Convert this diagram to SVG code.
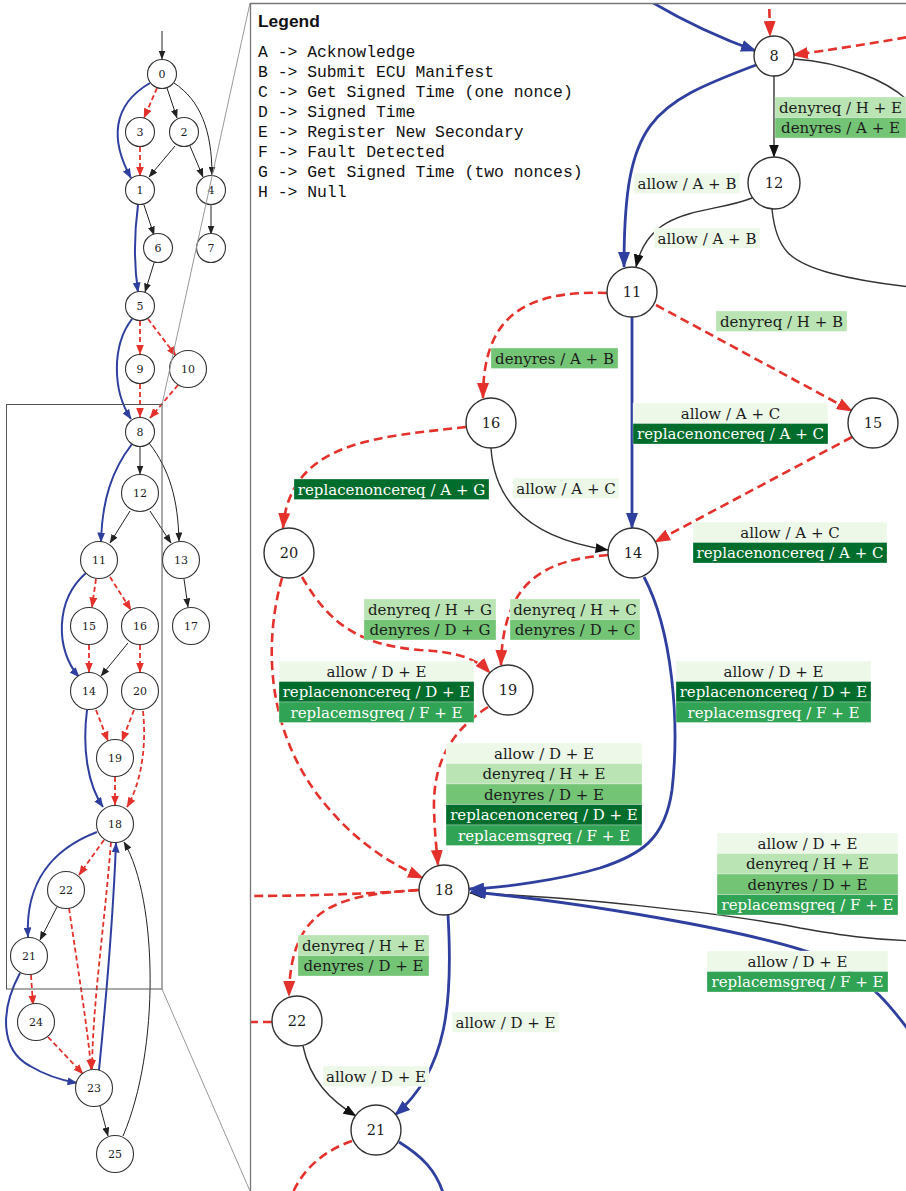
<svg xmlns="http://www.w3.org/2000/svg" width="906" height="1191" viewBox="0 0 906 1191">
<style>
  text{font-family:"DejaVu Serif","Liberation Serif",serif;fill:#1c1c1c}
  .nd circle{fill:#fff;stroke:#333;stroke-width:1.1}
  .nd text{text-anchor:middle}
  #mini .nd text{font-size:11px}
  #panel .nd text{font-size:14.5px}
  #panel .nd circle{stroke-width:1.4}
  .lbl text{font-size:15px;text-anchor:middle}
  .lbl text.w{fill:#fff}
  .c1{fill:#edf8e9}.c2{fill:#bae4b3}.c3{fill:#74c476}.c4{fill:#006d2c}.c5{fill:#31a354}
  .lbl rect{stroke:#fff;stroke-opacity:.5;stroke-width:.6}
  #mini .bk{stroke:#222;stroke-width:1;fill:none;marker-end:url(#sk)}
  #mini .bl{stroke:#2f3f9f;stroke-width:2;fill:none;marker-end:url(#sb)}
  #mini .rd{stroke:#e4312b;stroke-width:1.8;fill:none;stroke-dasharray:5 3;marker-end:url(#sr)}
  #panel .bk{stroke:#333;stroke-width:1.4;fill:none;marker-end:url(#pk)}
  #panel .bl{stroke:#2f3f9f;stroke-width:2.8;fill:none;marker-end:url(#pb)}
  #panel .rd{stroke:#e4312b;stroke-width:2.6;fill:none;stroke-dasharray:9 5;marker-end:url(#pr)}
  #panel .nm{marker-end:none}
  .legend{font-family:"Liberation Mono",monospace;font-size:16.4px;fill:#111}
</style>
<defs>
  <marker id="sk" viewBox="0 0 9 7" refX="8.5" refY="3.5" markerWidth="9" markerHeight="7" markerUnits="userSpaceOnUse" orient="auto"><path d="M0,0 L9,3.5 L0,7 z" fill="#222"/></marker>
  <marker id="sb" viewBox="0 0 10 8" refX="9.5" refY="4" markerWidth="10" markerHeight="8" markerUnits="userSpaceOnUse" orient="auto"><path d="M0,0 L10,4 L0,8 z" fill="#2f3f9f"/></marker>
  <marker id="sr" viewBox="0 0 10 8" refX="9.5" refY="4" markerWidth="10" markerHeight="8" markerUnits="userSpaceOnUse" orient="auto"><path d="M0,0 L10,4 L0,8 z" fill="#e4312b"/></marker>
  <marker id="pk" viewBox="0 0 13 10" refX="12.5" refY="5" markerWidth="13" markerHeight="10" markerUnits="userSpaceOnUse" orient="auto"><path d="M0,0 L13,5 L0,10 z" fill="#111"/></marker>
  <marker id="pb" viewBox="0 0 16 12" refX="15" refY="6" markerWidth="16" markerHeight="12" markerUnits="userSpaceOnUse" orient="auto"><path d="M0,0 L16,6 L0,12 z" fill="#2f3f9f"/></marker>
  <marker id="pr" viewBox="0 0 16 12" refX="15" refY="6" markerWidth="16" markerHeight="12" markerUnits="userSpaceOnUse" orient="auto"><path d="M0,0 L16,6 L0,12 z" fill="#e4312b"/></marker>
  <clipPath id="panelClip"><rect x="250" y="3" width="656" height="1188"/></clipPath>
</defs>
<rect width="906" height="1191" fill="#fff"/>

<!-- overview graph -->
<g id="mini">
  <g id="mini-edges">
    <path class="bk" d="M162,31 L162,59"/>
    <path class="bl" d="M150,83 C112,105 110,140 131,178"/>
    <path class="rd" d="M157,88 L144,118"/>
    <path class="bk" d="M167,88 L177,118"/>
    <path class="bk" d="M174,83 C200,100 212,130 212,175"/>
    <path class="rd" d="M140,147 L140,176"/>
    <path class="bk" d="M175,146 L149,177"/>
    <path class="bk" d="M190,146 L203,177"/>
    <path class="bk" d="M144,205 L154,235"/>
    <path class="bl" d="M138,205 C134,235 134,265 138,292"/>
    <path class="bk" d="M154,263 L145,292"/>
    <path class="bk" d="M211,205 L211,234"/>
    <path class="bl" d="M132,319 C112,345 112,390 131,419"/>
    <path class="rd" d="M140,321 L140,354"/>
    <path class="rd" d="M148,319 L176,356"/>
    <path class="rd" d="M140,384 L140,417"/>
    <path class="rd" d="M178,385 L150,418"/>
    <path class="bk" d="M140,447 L140,474"/>
    <path class="bl" d="M132,444 C112,470 102,500 101,542"/>
    <path class="bk" d="M149,443 C170,470 178,500 179,541"/>
    <path class="bk" d="M130,511 L110,543"/>
    <path class="bk" d="M150,511 L171,543"/>
    <path class="bl" d="M86,573 C55,600 55,650 79,677"/>
    <path class="rd" d="M96,579 L92,607"/>
    <path class="rd" d="M110,577 L131,610"/>
    <path class="bk" d="M184,579 L188,607"/>
    <path class="rd" d="M89,645 L89,672"/>
    <path class="bk" d="M128,643 L101,676"/>
    <path class="rd" d="M140,645 L140,672"/>
    <path class="rd" d="M96,710 L108,741"/>
    <path class="rd" d="M134,710 L122,741"/>
    <path class="bl" d="M87,710 C82,750 88,785 103,807"/>
    <path class="rd" d="M143,711 C147,750 140,785 127,807"/>
    <path class="rd" d="M115,777 L115,805"/>
    <path class="bl" d="M97,832 C55,848 25,880 28,937"/>
    <path class="rd" d="M104,840 L79,875"/>
    <path class="rd" d="M111,842 C104,930 93,1000 92,1069"/>
    <path class="bl" d="M99,1070 C106,1000 113,920 116,843"/>
    <path class="bk" d="M123,1136 C160,1050 158,900 124,842"/>
    <path class="bk" d="M57,907 L40,940"/>
    <path class="rd" d="M69,908 C78,970 88,1030 91,1069"/>
    <path class="rd" d="M31,975 L33,1005"/>
    <path class="bl" d="M20,973 C0,1010 0,1050 30,1066 C45,1075 60,1080 77,1083"/>
    <path class="rd" d="M48,1037 L83,1074"/>
    <path class="bk" d="M100,1106 L108,1136"/>
  </g>
  <g id="mini-n0" class="nd"><circle cx="162" cy="74" r="14.5"/><text x="162" y="78">0</text></g>
  <g id="mini-n3" class="nd"><circle cx="140" cy="132" r="14.5"/><text x="140" y="136">3</text></g>
  <g id="mini-n2" class="nd"><circle cx="184" cy="132" r="14.5"/><text x="184" y="136">2</text></g>
  <g id="mini-n1" class="nd"><circle cx="140" cy="190" r="14.5"/><text x="140" y="194">1</text></g>
  <g id="mini-n4" class="nd"><circle cx="211" cy="190" r="14.5"/><text x="211" y="194">4</text></g>
  <g id="mini-n6" class="nd"><circle cx="158" cy="248" r="14.5"/><text x="158" y="252">6</text></g>
  <g id="mini-n7" class="nd"><circle cx="211" cy="248" r="14.5"/><text x="211" y="252">7</text></g>
  <g id="mini-n5" class="nd"><circle cx="140" cy="306" r="14.5"/><text x="140" y="310">5</text></g>
  <g id="mini-n9" class="nd"><circle cx="140" cy="369" r="14.5"/><text x="140" y="373">9</text></g>
  <g id="mini-n10" class="nd"><circle cx="188" cy="369" r="18.5"/><text x="188" y="373">10</text></g>
  <g id="mini-n8" class="nd"><circle cx="140" cy="432" r="14.5"/><text x="140" y="436">8</text></g>
  <g id="mini-n12" class="nd"><circle cx="140" cy="493" r="18.5"/><text x="140" y="497">12</text></g>
  <g id="mini-n11" class="nd"><circle cx="99" cy="560" r="18.5"/><text x="99" y="564">11</text></g>
  <g id="mini-n13" class="nd"><circle cx="181" cy="560" r="18.5"/><text x="181" y="564">13</text></g>
  <g id="mini-n15" class="nd"><circle cx="89" cy="626" r="18.5"/><text x="89" y="630">15</text></g>
  <g id="mini-n16" class="nd"><circle cx="140" cy="626" r="18.5"/><text x="140" y="630">16</text></g>
  <g id="mini-n17" class="nd"><circle cx="191" cy="626" r="18.5"/><text x="191" y="630">17</text></g>
  <g id="mini-n14" class="nd"><circle cx="89" cy="691" r="18.5"/><text x="89" y="695">14</text></g>
  <g id="mini-n20" class="nd"><circle cx="140" cy="691" r="18.5"/><text x="140" y="695">20</text></g>
  <g id="mini-n19" class="nd"><circle cx="115" cy="758" r="18.5"/><text x="115" y="762">19</text></g>
  <g id="mini-n18" class="nd"><circle cx="115" cy="824" r="18.5"/><text x="115" y="828">18</text></g>
  <g id="mini-n22" class="nd"><circle cx="66" cy="890" r="18.5"/><text x="66" y="894">22</text></g>
  <g id="mini-n21" class="nd"><circle cx="29" cy="956" r="18.5"/><text x="29" y="960">21</text></g>
  <g id="mini-n24" class="nd"><circle cx="36" cy="1022" r="18.5"/><text x="36" y="1026">24</text></g>
  <g id="mini-n23" class="nd"><circle cx="94" cy="1088" r="18.5"/><text x="94" y="1092">23</text></g>
  <g id="mini-n25" class="nd"><circle cx="115" cy="1154" r="18.5"/><text x="115" y="1158">25</text></g>
</g>

<!-- magnified region frame and guide lines -->
<g id="zoom-frame" fill="none">
  <rect x="6.5" y="404.5" width="155.5" height="584.5" stroke="#555" stroke-width="1"/>
  <path d="M162,404.5 L250,3 M162,989 L250,1191" stroke="#999" stroke-width="1"/>
</g>

<!-- magnified panel -->
<g id="panel" clip-path="url(#panelClip)">
  <g id="panel-edges">
    <path class="bl" d="M640,-5 C680,20 720,38 756,51"/>
    <path class="rd" d="M769,-5 L770,36"/>
    <path class="rd" d="M920,35 C880,42 830,50 793,55"/>
    <path class="bk nm" d="M794,59 C840,62 890,80 912,105"/>
    <path class="bk" d="M774,76 L774,157"/>
    <path class="bl" d="M756,65 C650,105 624,120 624,267"/>
    <path class="bk" d="M752,198 C710,215 650,205 636,267"/>
    <path class="bk nm" d="M772,209 C776,250 790,262 830,273 C860,281 890,285 920,288"/>
    <path class="rd" d="M607,293 C520,290 483,320 483,398"/>
    <path class="rd" d="M656,305 L852,411"/>
    <path class="bl" d="M632,317 L632,528"/>
    <path class="rd" d="M852,437 L655,542"/>
    <path class="rd" d="M466,427 C380,437 290,440 283,528"/>
    <path class="bk" d="M491,448 C495,510 540,540 608,550"/>
    <path class="rd" d="M608,555 C545,560 503,580 501,665"/>
    <path class="rd" d="M302,577 C330,625 360,645 420,650 C460,652 478,660 490,673"/>
    <path class="rd" d="M282,578 C262,650 268,740 330,810 C360,845 395,866 423,878"/>
    <path class="rd" d="M488,707 C445,735 433,770 434,810 C435,840 437,852 438,865"/>
    <path class="bl" d="M644,577 C672,630 680,720 672,790 C665,840 640,855 600,868 C560,880 500,888 469,889"/>
    <path class="bk" d="M920,941 C870,940 840,935 800,928 C720,912 560,896 470,893"/>
    <path class="bl" d="M920,1045 C900,1020 880,985 830,960 C760,930 560,900 471,892"/>
    <path class="rd nm" d="M240,896 C320,896 380,893 419,890"/>
    <path class="rd" d="M419,890 C340,895 290,905 289,996"/>
    <path class="rd nm" d="M272,1022 L240,1022"/>
    <path class="bk" d="M303,1046 C310,1080 330,1100 356,1116"/>
    <path class="bl" d="M448,915 C453,1000 448,1070 395,1115"/>
    <path class="bl nm" d="M399,1142 C420,1155 438,1170 445,1200"/>
    <path class="rd nm" d="M352,1141 C325,1150 300,1170 290,1200"/>
  </g>

  <g id="panel-labels" class="lbl">
    <g><rect class="c2" x="775" y="97" width="131" height="20.5"/><text x="840.5" y="112.5">denyreq / H + E</text>
       <rect class="c3" x="775" y="117.5" width="131" height="20.5"/><text x="840.5" y="133">denyres / A + E</text></g>
    <g><rect class="c1" x="634" y="173" width="106" height="20.5"/><text x="687" y="188.5">allow / A + B</text></g>
    <g><rect class="c1" x="654" y="228" width="106" height="20.5"/><text x="707" y="243.5">allow / A + B</text></g>
    <g><rect class="c3" x="491" y="348" width="127" height="20.5"/><text x="554.5" y="363.5">denyres / A + B</text></g>
    <g><rect class="c2" x="716" y="311" width="131" height="20.5"/><text x="781.5" y="326.5">denyreq / H + B</text></g>
    <g><rect class="c1" x="633" y="403" width="195" height="20.5"/><text x="730.5" y="418.5">allow / A + C</text>
       <rect class="c4" x="633" y="423.5" width="195" height="20.5"/><text class="w" x="730.5" y="439">replacenoncereq / A + C</text></g>
    <g><rect class="c1" x="693" y="522" width="194" height="20.5"/><text x="790" y="537.5">allow / A + C</text>
       <rect class="c4" x="693" y="542.5" width="194" height="20.5"/><text class="w" x="790" y="558">replacenoncereq / A + C</text></g>
    <g><rect class="c4" x="294" y="479" width="195" height="20.5"/><text class="w" x="391.5" y="494.5">replacenoncereq / A + G</text></g>
    <g><rect class="c1" x="513" y="478" width="106" height="20.5"/><text x="566" y="493.5">allow / A + C</text></g>
    <g><rect class="c2" x="510" y="599" width="130" height="20.5"/><text x="575" y="614.5">denyreq / H + C</text>
       <rect class="c3" x="510" y="619.5" width="130" height="20.5"/><text x="575" y="635">denyres / D + C</text></g>
    <g><rect class="c2" x="364" y="599" width="132" height="20.5"/><text x="430" y="614.5">denyreq / H + G</text>
       <rect class="c3" x="364" y="619.5" width="132" height="20.5"/><text x="430" y="635">denyres / D + G</text></g>
    <g><rect class="c1" x="279" y="661" width="195" height="20.5"/><text x="376.5" y="676.5">allow / D + E</text>
       <rect class="c4" x="279" y="681.5" width="195" height="20.5"/><text class="w" x="376.5" y="697">replacenoncereq / D + E</text>
       <rect class="c5" x="279" y="702" width="195" height="20.5"/><text class="w" x="376.5" y="717.5">replacemsgreq / F + E</text></g>
    <g><rect class="c1" x="446" y="743" width="196" height="20.5"/><text x="544" y="758.5">allow / D + E</text>
       <rect class="c2" x="446" y="763.5" width="196" height="20.5"/><text x="544" y="779">denyreq / H + E</text>
       <rect class="c3" x="446" y="784" width="196" height="20.5"/><text x="544" y="799.5">denyres / D + E</text>
       <rect class="c4" x="446" y="804.5" width="196" height="20.5"/><text class="w" x="544" y="820">replacenoncereq / D + E</text>
       <rect class="c5" x="446" y="825" width="196" height="20.5"/><text class="w" x="544" y="840.5">replacemsgreq / F + E</text></g>
    <g><rect class="c1" x="676" y="661" width="195" height="20.5"/><text x="773.5" y="676.5">allow / D + E</text>
       <rect class="c4" x="676" y="681.5" width="195" height="20.5"/><text class="w" x="773.5" y="697">replacenoncereq / D + E</text>
       <rect class="c5" x="676" y="702" width="195" height="20.5"/><text class="w" x="773.5" y="717.5">replacemsgreq / F + E</text></g>
    <g><rect class="c1" x="717" y="833" width="181" height="20.5"/><text x="807.5" y="848.5">allow / D + E</text>
       <rect class="c2" x="717" y="853.5" width="181" height="20.5"/><text x="807.5" y="869">denyreq / H + E</text>
       <rect class="c3" x="717" y="874" width="181" height="20.5"/><text x="807.5" y="889.5">denyres / D + E</text>
       <rect class="c5" x="717" y="894.5" width="181" height="20.5"/><text class="w" x="807.5" y="910">replacemsgreq / F + E</text></g>
    <g><rect class="c1" x="707" y="951" width="181" height="20.5"/><text x="797.5" y="966.5">allow / D + E</text>
       <rect class="c5" x="707" y="971.5" width="181" height="20.5"/><text class="w" x="797.5" y="987">replacemsgreq / F + E</text></g>
    <g><rect class="c2" x="298" y="935" width="131" height="20.5"/><text x="363.5" y="950.5">denyreq / H + E</text>
       <rect class="c3" x="298" y="955.5" width="131" height="20.5"/><text x="363.5" y="971">denyres / D + E</text></g>
    <g><rect class="c1" x="323" y="1066" width="106" height="20.5"/><text x="376" y="1081.5">allow / D + E</text></g>
    <g><rect class="c1" x="452" y="1012" width="107" height="20.5"/><text x="505.5" y="1027.5">allow / D + E</text></g>
  </g>

  <g id="n8" class="nd"><circle cx="774" cy="56" r="20"/><text x="774" y="61">8</text></g>
  <g id="n12" class="nd"><circle cx="774" cy="183" r="26"/><text x="774" y="188">12</text></g>
  <g id="n11" class="nd"><circle cx="632" cy="292" r="25"/><text x="632" y="297">11</text></g>
  <g id="n16" class="nd"><circle cx="491" cy="423" r="25"/><text x="491" y="428">16</text></g>
  <g id="n15" class="nd"><circle cx="873" cy="423" r="25"/><text x="873" y="428">15</text></g>
  <g id="n14" class="nd"><circle cx="633" cy="553" r="25"/><text x="633" y="558">14</text></g>
  <g id="n20" class="nd"><circle cx="289" cy="553" r="25"/><text x="289" y="558">20</text></g>
  <g id="n19" class="nd"><circle cx="508" cy="690" r="25"/><text x="508" y="695">19</text></g>
  <g id="n18" class="nd"><circle cx="444" cy="890" r="25"/><text x="444" y="895">18</text></g>
  <g id="n22" class="nd"><circle cx="297" cy="1021" r="25"/><text x="297" y="1026">22</text></g>
  <g id="n21" class="nd"><circle cx="376" cy="1130" r="25"/><text x="376" y="1135">21</text></g>

  <!-- key to the action letters -->
  <g id="legend">
    <text x="258" y="27" style="font-family:'Liberation Sans',Arial,sans-serif;font-weight:bold;font-size:17.4px;fill:#111">Legend</text>
    <text class="legend" x="258" y="57">A -&gt; Acknowledge</text>
    <text class="legend" x="258" y="77">B -&gt; Submit ECU Manifest</text>
    <text class="legend" x="258" y="97">C -&gt; Get Signed Time (one nonce)</text>
    <text class="legend" x="258" y="117">D -&gt; Signed Time</text>
    <text class="legend" x="258" y="137">E -&gt; Register New Secondary</text>
    <text class="legend" x="258" y="157">F -&gt; Fault Detected</text>
    <text class="legend" x="258" y="177">G -&gt; Get Signed Time (two nonces)</text>
    <text class="legend" x="258" y="197">H -&gt; Null</text>
  </g>
</g>
<path id="panel-border" d="M250.5,1191 L250.5,3.5 L906,3.5" fill="none" stroke="#777" stroke-width="1.3"/>
</svg>
